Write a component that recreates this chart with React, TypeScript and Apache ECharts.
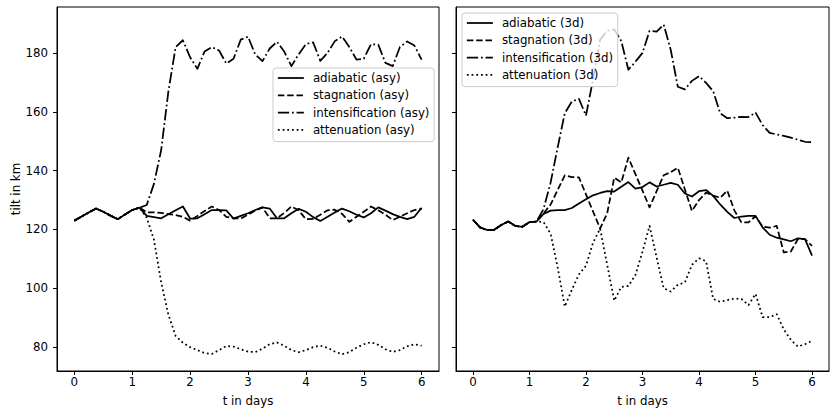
import React, { useEffect, useRef } from "react";
import * as echarts from "echarts";

// time axis: one sample every 3 hours over six days
const T_STEP = 0.125;
const xTicks = [0, 1, 2, 3, 4, 5, 6];
const yTicks = [80, 100, 120, 140, 160, 180];

// asymmetric runs: common spin-up until day 1.125
const asyStart = [123.0, 124.4, 125.8, 127.1, 126.0, 124.7, 123.5, 125.1, 126.6, 127.4];

const adiabaticAsy = [
  ...asyStart,
  124.6, 124.2, 123.8, 125.2, 126.5, 127.8, 123.7, 123.8, 125.2, 126.6,
  126.6, 126.5, 123.7, 124.6, 125.5, 126.6, 127.5, 127.1, 123.8, 123.8,
  125.5, 127.0, 126.0, 124.2, 122.9, 124.3, 125.8, 127.1, 126.2, 125.0,
  124.1, 125.5, 127.5, 126.4, 125.2, 124.3, 123.5, 124.3, 127.4,
];
const stagnationAsy = [
  ...asyStart,
  125.8, 125.8, 125.6, 125.2, 124.9, 124.3, 123.0, 124.6, 126.3, 127.8,
  126.6, 124.3, 123.8, 123.7, 125.0, 126.4, 127.5, 123.8, 123.8, 125.6,
  127.8, 126.5, 123.5, 123.6, 125.0, 126.5, 126.7, 125.3, 122.6, 124.3,
  126.0, 127.8, 126.5, 125.0, 123.2, 124.3, 125.5, 126.6, 127.0,
];
const intensificationAsy = [
  ...asyStart,
  128.3, 135.5, 147.0, 167.0, 182.0, 184.3, 178.5, 174.6, 180.5, 182.0,
  180.8, 176.4, 178.0, 184.5, 185.5, 179.5, 177.2, 181.5, 183.8, 180.5,
  175.5, 179.5, 183.0, 183.6, 177.3, 180.0, 184.0, 185.6, 182.0, 177.7,
  178.0, 183.0, 182.8, 176.6, 175.5, 182.0, 183.9, 182.5, 177.7,
];
const attenuationAsy = [
  ...asyStart,
  124.0, 116.5, 102.0, 91.0, 83.8, 81.5, 80.0, 79.0, 78.0, 77.7,
  79.0, 80.4, 80.2, 79.3, 78.5, 78.3, 79.5, 81.0, 81.6, 80.5,
  79.0, 78.3, 79.0, 80.0, 80.5, 79.8, 78.5, 77.6, 78.3, 79.8,
  81.0, 81.7, 80.8, 79.3, 78.4, 79.0, 80.3, 81.0, 80.5,
];

// full 3d runs: common spin-up until day 1.125
const d3Start = [123.3, 120.7, 119.8, 119.9, 121.5, 122.7, 121.2, 120.9, 122.5, 122.7];

const adiabatic3d = [
  ...d3Start,
  125.3, 126.4, 126.6, 126.6, 127.3, 128.8, 130.3, 131.6, 132.4, 133.0,
  132.9, 134.5, 136.1, 133.9, 134.4, 136.0, 134.6, 135.2, 135.8, 135.2,
  132.2, 131.2, 133.0, 133.4, 131.4, 128.5, 126.0, 123.9, 124.4, 124.6,
  124.6, 120.7, 118.2, 117.2, 116.6, 116.0, 117.0, 116.7, 111.1,
];
const stagnation3d = [
  ...d3Start,
  125.5, 128.5, 133.5, 138.4, 137.8, 137.7, 131.9, 126.1, 120.3, 125.5,
  137.6, 136.0, 144.4, 138.8, 133.2, 127.5, 133.0, 138.4, 139.5, 141.0,
  133.6, 126.3, 130.0, 132.5, 131.5, 130.8, 133.2, 126.5, 122.4, 122.4,
  124.5, 121.0, 120.6, 121.2, 112.2, 112.5, 116.7, 116.7, 114.4,
];
const intensification3d = [
  ...d3Start,
  127.0, 136.0, 148.0, 159.5, 163.5, 164.4, 158.7, 171.0, 184.5, 187.5,
  188.0, 184.0, 174.3, 177.0, 180.0, 187.5, 187.2, 189.6, 181.0, 168.5,
  167.6, 170.5, 172.1, 169.8, 167.0, 159.5, 157.8, 158.0, 158.3, 158.2,
  159.7, 155.5, 152.8, 152.3, 151.8, 151.2, 150.5, 149.8, 149.7,
];
const attenuation3d = [
  ...d3Start,
  122.5, 118.5, 107.0, 93.8, 99.5, 104.7, 107.7, 115.5, 120.3, 108.0,
  95.8, 100.5, 100.8, 104.5, 112.5, 121.2, 110.5, 100.0, 98.9, 101.2,
  102.0, 108.0, 110.2, 109.2, 96.4, 95.4, 96.0, 96.5, 96.4, 94.3,
  98.1, 90.2, 90.2, 91.2, 86.0, 82.5, 80.2, 81.0, 82.2,
];

const FONT = "DejaVu Sans";
const FS = 11.8;
const LW = 1.75;

// matplotlib-like dash patterns scaled to the line width
const STYLES: Record<string, any> = {
  adiabatic: "solid",
  stagnation: [6.5, 2.8],
  intensification: [11.3, 2.8, 1.8, 2.8],
  attenuation: [1.8, 2.9],
};

const kinds = ["adiabatic", "stagnation", "intensification", "attenuation"];

const toPoints = (vals: number[]) => vals.map((v, i) => [i * T_STEP, v]);

function makeSeries(name: string, kind: string, vals: number[], idx: number) {
  return {
    type: "line",
    name,
    xAxisIndex: idx,
    yAxisIndex: idx,
    data: toPoints(vals),
    symbol: "none",
    showSymbol: false,
    lineStyle: { color: "#000", width: LW, type: STYLES[kind], cap: "butt", join: "round" },
    itemStyle: { color: "#000" },
    z: 2,
  };
}

function makeLegend(suffix: string, left: number, top: number) {
  return {
    orient: "vertical",
    left,
    top,
    padding: [3, 4.6, 4.7, 4],
    itemWidth: 26,
    itemHeight: 14,
    itemGap: 3.3,
    backgroundColor: "rgba(255,255,255,0.8)",
    borderColor: "#cccccc",
    borderWidth: 1,
    borderRadius: 3,
    selectedMode: false,
    itemStyle: { opacity: 0 },
    textStyle: { fontFamily: FONT, fontSize: FS, color: "#000", lineHeight: 14, padding: [0, 0, 0, 4] },
    data: kinds.map((k) => ({
      name: `${k} ${suffix}`,
      itemStyle: { opacity: 0 },
      lineStyle: { color: "#000", width: LW, type: STYLES[k], cap: "butt", opacity: 1 },
    })),
  };
}

function makeXAxis(idx: number) {
  return {
    type: "value",
    gridIndex: idx,
    min: -0.3,
    max: 6.3,
    name: "t in days",
    nameLocation: "middle",
    nameGap: 24,
    nameTextStyle: { fontFamily: FONT, fontSize: FS, color: "#000" },
    axisLine: { show: true, onZero: false, lineStyle: { color: "#000", width: 1 } },
    splitLine: { show: false },
    axisTick: { show: true, inside: false, length: 4, customValues: xTicks, lineStyle: { color: "#000", width: 1 } },
    axisLabel: { show: true, customValues: xTicks, margin: 5, fontFamily: FONT, fontSize: FS, color: "#000" },
  };
}

function makeYAxis(idx: number, labels: boolean) {
  return {
    type: "value",
    gridIndex: idx,
    min: 71.9,
    max: 195.6,
    name: labels ? "tilt in km" : "",
    nameLocation: "middle",
    nameGap: 35,
    nameTextStyle: { fontFamily: FONT, fontSize: FS, color: "#000" },
    axisLine: { show: true, onZero: false, lineStyle: { color: "#000", width: 1 } },
    splitLine: { show: false },
    axisTick: { show: true, inside: false, length: 4, customValues: yTicks, lineStyle: { color: "#000", width: 1 } },
    axisLabel: { show: labels, customValues: yTicks, margin: 9, fontFamily: FONT, fontSize: FS, color: "#000" },
  };
}

export default function App() {
  const ref = useRef<HTMLDivElement>(null);

  useEffect(() => {
    if (!ref.current) return;
    const chart = echarts.init(ref.current, null, { renderer: "svg" });
    chart.setOption({
      animation: false,
      backgroundColor: "#fff",
      textStyle: { fontFamily: FONT },
      grid: [
        { left: 57, top: 7, width: 382, height: 365, show: true, borderColor: "#000", borderWidth: 1, backgroundColor: "transparent" },
        { left: 456, top: 7, width: 373, height: 365, show: true, borderColor: "#000", borderWidth: 1, backgroundColor: "transparent" },
      ],
      xAxis: [makeXAxis(0), makeXAxis(1)],
      yAxis: [makeYAxis(0, true), makeYAxis(1, false)],
      legend: [makeLegend("(asy)", 273, 68), makeLegend("(3d)", 462, 13)],
      series: [
        makeSeries("adiabatic (asy)", "adiabatic", adiabaticAsy, 0),
        makeSeries("stagnation (asy)", "stagnation", stagnationAsy, 0),
        makeSeries("intensification (asy)", "intensification", intensificationAsy, 0),
        makeSeries("attenuation (asy)", "attenuation", attenuationAsy, 0),
        makeSeries("adiabatic (3d)", "adiabatic", adiabatic3d, 1),
        makeSeries("stagnation (3d)", "stagnation", stagnation3d, 1),
        makeSeries("intensification (3d)", "intensification", intensification3d, 1),
        makeSeries("attenuation (3d)", "attenuation", attenuation3d, 1),
      ],
    });
    return () => chart.dispose();
  }, []);

  return (
    <div
      ref={ref}
      style={{ position: "absolute", left: 0, top: 0, width: 830, height: 412, background: "#fff" }}
    />
  );
}
